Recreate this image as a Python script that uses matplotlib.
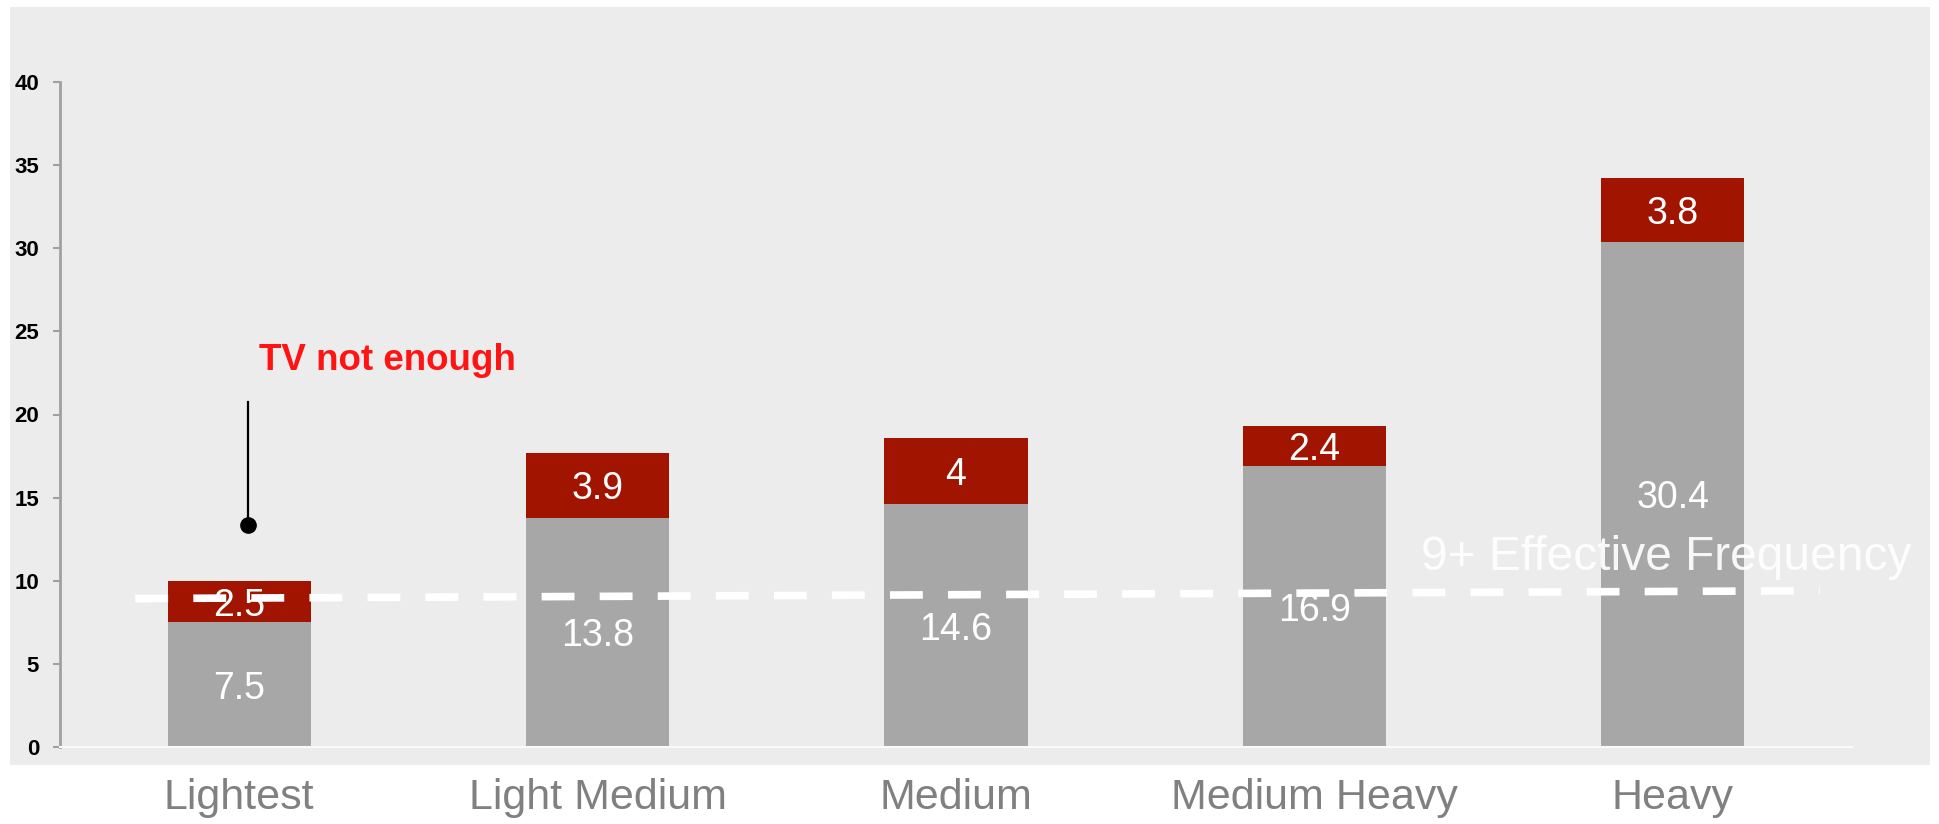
import matplotlib
matplotlib.use("Agg")
import matplotlib.pyplot as plt
from matplotlib.patches import Rectangle

plt.rcParams['font.family'] = ['Liberation Sans', 'DejaVu Sans']

# Data
categories = ["Lightest", "Light Medium", "Medium", "Medium Heavy", "Heavy"]
tv_frequency = [7.5, 13.8, 14.6, 16.9, 30.4]
added_frequency = [2.5, 3.9, 4, 2.4, 3.8]
y_ticks = [0, 5, 10, 15, 20, 25, 30, 35, 40]

# Effective frequency reference line (x in category units, y in frequency)
threshold_x = [-0.29, 4.41]
threshold_y = [8.93, 9.4]
threshold_label = "9+ Effective Frequency"

# Callout
callout_text = "TV not enough"
callout_x = 0.025
callout_top = 20.75
callout_point = 13.35

GRAY = "#a7a7a7"
RED = "#a11400"
PANEL = "#ececec"

fig = plt.figure(figsize=(19.39, 8.24), dpi=100, facecolor="white")
fig.patches.append(Rectangle((10 / 1939, 1 - 765 / 824), 1920 / 1939, 758 / 824,
                             transform=fig.transFigure, facecolor=PANEL,
                             edgecolor="none", zorder=-5))

ax = fig.add_axes([60 / 1939, 77 / 824, 1792 / 1939, 665 / 824])
ax.set_facecolor("none")
ax.set_zorder(1)

x = list(range(len(categories)))
width = 0.40
ax.bar(x, tv_frequency, width, color=GRAY, zorder=2)
ax.bar(x, added_frequency, width, bottom=tv_frequency, color=RED, zorder=2)

for xi, base, extra in zip(x, tv_frequency, added_frequency):
    ax.text(xi, base / 2, f"{base:g}", ha="center", va="center_baseline",
            color="white", fontsize=27, zorder=4)
    ax.text(xi, base + extra / 2, f"{extra:g}", ha="center",
            va="center_baseline", color="white", fontsize=27, zorder=4)

# Dashed threshold line
ax.plot(threshold_x, threshold_y, color="white", lw=5.5,
        dashes=(4.3, 3.3), solid_capstyle="butt", dash_capstyle="butt", zorder=3)
ax.text(4.665, 10.65, threshold_label, ha="right", va="baseline",
        color="white", fontsize=34.5, alpha=0.92, zorder=4, clip_on=False)

# Callout
ax.plot([callout_x, callout_x], [callout_top, callout_point], color="black",
        lw=1.6, zorder=5)
ax.plot([callout_x], [callout_point], "o", color="black", ms=11, zorder=5)
ax.text(0.056, 22.7, callout_text, ha="left", va="baseline", color="#ff1414",
        fontsize=26.5, fontweight="bold", zorder=5)

ax.set_xlim(-0.5, 4.5)
ax.set_ylim(0, 40)
ax.set_yticks(y_ticks)
ax.set_yticklabels([str(t) for t in y_ticks], fontsize=16, fontweight="bold",
                   color="black")
ax.set_xticks(x)
ax.set_xticklabels(categories, fontsize=31, color="#808080")
ax.tick_params(axis="x", length=0, pad=22)
ax.tick_params(axis="y", length=5, width=1.5, color="#a0a0a0", pad=10)

for side in ("top", "right"):
    ax.spines[side].set_visible(False)
ax.spines["left"].set_color("#a0a0a0")
ax.spines["left"].set_linewidth(2)
ax.spines["bottom"].set_color("#fafafa")
ax.spines["bottom"].set_linewidth(1.5)

fig.savefig("out.png", dpi=100, facecolor="white")
